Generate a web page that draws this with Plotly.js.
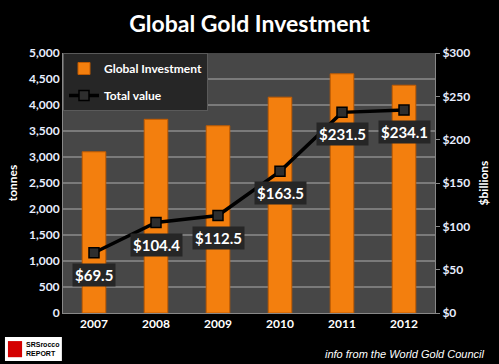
<!DOCTYPE html>
<html>
<head>
<meta charset="utf-8">
<script src="https://cdn.plot.ly/plotly-3.0.1.min.js"></script>
<style>html,body{margin:0;padding:0;background:#000;}#chart{width:499px;height:364px;}</style>
</head>
<body>
<div id="chart"></div>
<script>
const years = [2007, 2008, 2009, 2010, 2011, 2012];
const tonnes = [3100, 3725, 3600, 4150, 4600, 4380];
const totalValue = [69.5, 104.4, 112.5, 163.5, 231.5, 234.1];
const valueLabels = ['$69.5', '$104.4', '$112.5', '$163.5', '$231.5', '$234.1'];

const FONT = 'Lato, "Open Sans", sans-serif';

const traces = [
  {
    type: 'bar', name: 'Global Investment', x: years, y: tonnes, legendgroup: 'a',
    marker: {color: '#f37f0e', line: {color: '#c05a00', width: 1}},
    width: 0.38, yaxis: 'y'
  },
  {
    type: 'scatter', mode: 'lines+markers', name: 'Total value', x: years, y: totalValue,
    yaxis: 'y2', legendgroup: 'b',
    line: {color: '#000000', width: 3.5},
    marker: {symbol: 'square', size: 10, color: '#2e2e2e', line: {color: '#000', width: 1.5}}
  }
];

const annotations = years.map((yr, i) => ({
  x: yr, y: totalValue[i], xref: 'x', yref: 'y2', yshift: -22,
  text: '<b>' + valueLabels[i] + '</b>', showarrow: false,
  font: {family: FONT, size: 15, color: '#ffffff'},
  bgcolor: '#262626', borderpad: 2
}));
annotations.push({
  xref: 'paper', yref: 'paper', x: 1.14, y: -0.158, xanchor: 'right', yanchor: 'middle',
  text: '<i>info from the World Gold Council</i>', showarrow: false,
  font: {family: '"Liberation Sans", Arial, sans-serif', size: 11, color: '#ffffff'}
});
annotations.push({
  xref: 'paper', yref: 'paper', x: -0.105, y: -0.138, xanchor: 'left', yanchor: 'middle',
  text: '<b>SRSrocco<br>REPORT</b>', showarrow: false,
  font: {family: '"Liberation Sans", Arial, sans-serif', size: 7, color: '#000'},
  align: 'left'
});

const layout = {
  width: 499, height: 364,
  paper_bgcolor: '#000000', plot_bgcolor: '#474747',
  margin: {l: 63, r: 64, t: 53, b: 51},
  title: {text: '<b>Global Gold Investment</b>', x: 0.5, xanchor: 'center', y: 0.935, yanchor: 'middle',
          font: {family: FONT, size: 23, color: '#ffffff'}},
  font: {family: FONT, color: '#ffffff'},
  showlegend: true,
  legend: {x: 0, y: 1, xanchor: 'left', yanchor: 'top', bgcolor: '#262626', bordercolor: '#5a5a5a', borderwidth: 1,
           font: {family: FONT, size: 12, color: '#ffffff', weight: 'bold'}, tracegroupgap: 8},
  xaxis: {type: 'linear', range: [2006.5, 2012.5], dtick: 1, tickformat: 'd',
          tickfont: {family: FONT, size: 12, color: '#ffffff', weight: 'bold'},
          showgrid: false, showline: true, linecolor: '#888', linewidth: 1, ticks: '', zeroline: false},
  yaxis: {range: [0, 5000], dtick: 500, tickformat: ',d', showgrid: true, gridcolor: '#7a7a7a', gridwidth: 2,
          zeroline: false, showline: true, linecolor: '#888', ticks: '',
          tickfont: {family: FONT, size: 12, color: '#e8eeff', weight: 'bold'},
          title: {text: '<b>tonnes</b>', font: {family: FONT, size: 12, color: '#ffffff'}, standoff: 8}},
  yaxis2: {range: [0, 300], dtick: 50, tickprefix: '$', overlaying: 'y', side: 'right', showgrid: false,
           zeroline: false, showline: true, linecolor: '#888', ticks: 'outside', ticklen: 4, tickcolor: '#888',
           tickfont: {family: FONT, size: 12, color: '#e8eeff', weight: 'bold'},
           title: {text: '<b>$billions</b>', font: {family: FONT, size: 12, color: '#ffffff'}, standoff: 10}},
  shapes: [
    {type: 'rect', xref: 'paper', yref: 'paper', x0: -0.156, x1: -0.003, y0: -0.185, y1: -0.092,
     fillcolor: '#ffffff', line: {width: 0}, layer: 'above'},
    {type: 'rect', xref: 'paper', yref: 'paper', x0: -0.148, x1: -0.11, y0: -0.17, y1: -0.108,
     fillcolor: '#d40000', line: {width: 0}, layer: 'above'}
  ],
  annotations: annotations
};

Plotly.newPlot('chart', traces, layout, {displayModeBar: false, staticPlot: true});
</script>
</body>
</html>
